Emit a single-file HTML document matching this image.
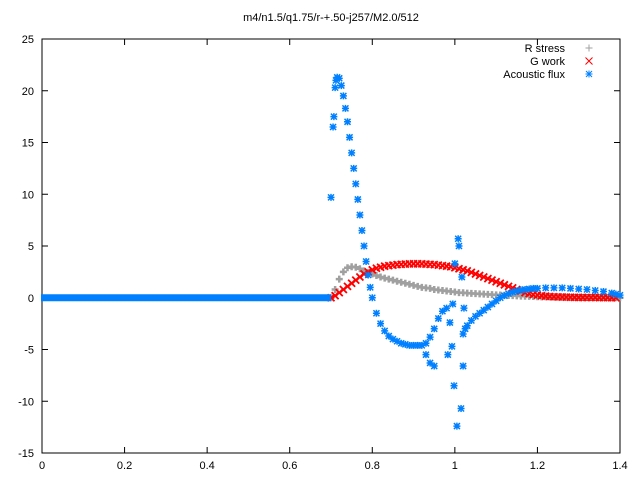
<!DOCTYPE html>
<html><head><meta charset="utf-8">
<style>
html,body{margin:0;padding:0;background:#fff;}
svg{display:block;font-family:"Liberation Sans",sans-serif;font-size:11px;}
</style></head>
<body>
<svg id="chart" width="640" height="480" viewBox="0 0 640 480" xmlns="http://www.w3.org/2000/svg">
<rect width="640" height="480" fill="#fff"/>
<text x="331" y="21" text-anchor="middle">m4/n1.5/q1.75/r-+.50-j257/M2.0/512</text>
<g id="axes"></g>
<g id="marks"></g>
<g id="legend"></g>
</svg>
<script>
const xTicks=[0,0.2,0.4,0.6,0.8,1,1.2,1.4];
const xTickLabels=["0","0.2","0.4","0.6","0.8","1","1.2","1.4"];
const yTicks=[-15,-10,-5,0,5,10,15,20,25];
const yTickLabels=["-15","-10","-5","0","5","10","15","20","25"];
const gridStartX=0.70;
const gridStep=0.01;
const rStress=[0,0.8,1.8,2.5,2.9,3.0,2.95,2.8,2.6,2.45,2.3,2.15,2.0,1.9,1.8,1.7,1.6,1.5,1.4,1.3,1.2,1.1,1.0,0.95,0.9,0.8,0.75,0.7,0.65,0.6,0.55,0.5,0.48,0.45,0.42,0.4,0.37,0.35,0.33,0.3,0.28,0.26,0.24,0.22,0.2,0.18,0.16,0.15,0.13,0.12,0.1,0.09,0.08,0.07,0.06,0.06,0.05,0.05,0.04,0.04,0.03,0.03,0.02,0.02,0.02,0.01,0.01,0.01,0,0,0];
const gWork=[0,0.2,0.5,0.8,1.1,1.4,1.7,2.0,2.3,2.5,2.7,2.85,2.95,3.05,3.1,3.15,3.2,3.22,3.25,3.27,3.28,3.28,3.27,3.25,3.22,3.2,3.15,3.1,3.05,3.0,2.9,2.8,2.7,2.6,2.45,2.3,2.15,2.0,1.85,1.7,1.55,1.4,1.25,1.1,0.95,0.8,0.65,0.5,0.4,0.3,0.25,0.2,0.15,0.12,0.1,0.08,0.07,0.06,0.05,0.04,0.03,0.03,0.02,0.02,0.02,0.01,0.01,0.01,0,0];
const fluxX=[0.70,0.705,0.707,0.71,0.712,0.715,0.72,0.725,0.73,0.735,0.74,0.745,0.75,0.755,0.76,0.765,0.77,0.775,0.78,0.785,0.79,0.795,0.80,0.81,0.82,0.83,0.84,0.85,0.86,0.87,0.88,0.89,0.90,0.91,0.92,0.93,0.94,0.95,0.93,0.94,0.95,0.96,0.97,0.98,0.983,0.988,0.993,0.995,0.998,1.0,1.005,1.008,1.010,1.015,1.017,1.020,1.022,1.02,1.025,1.03,1.04,1.05,1.06,1.07,1.08,1.09,1.10,1.11,1.12,1.13,1.14,1.15,1.16,1.17,1.18,1.19,1.20,1.22,1.24,1.26,1.28,1.30,1.32,1.34,1.36,1.38,1.39,1.40];
const fluxY=[9.7,16.5,17.5,20.3,21.0,21.3,21.2,20.5,19.5,18.3,17,15.5,14,12.5,11,9.5,8,6.5,5,3.5,2.2,1,0,-1.5,-2.5,-3.2,-3.7,-4.0,-4.2,-4.4,-4.5,-4.6,-4.6,-4.6,-4.6,-5.5,-6.3,-6.6,-4.4,-3.8,-3.0,-2.0,-1.3,-1.0,-5.5,-2.4,-4.7,-0.6,-8.5,3.3,-12.4,5.7,5.0,-10.7,2.0,-6.6,-1.0,-3.5,-3.0,-2.7,-2.2,-1.8,-1.5,-1.2,-0.9,-0.6,-0.3,0,0.2,0.4,0.55,0.65,0.75,0.8,0.85,0.9,0.9,0.95,0.95,0.95,0.9,0.85,0.8,0.7,0.6,0.45,0.35,0.25,0.2];

const L=42,R=620,T=39,B=453,xMin=0,xMax=1.4,yMin=-15,yMax=25;
const sx=v=>L+(v-xMin)/(xMax-xMin)*(R-L);
const sy=v=>B-(v-yMin)/(yMax-yMin)*(B-T);
const NS="http://www.w3.org/2000/svg";
function mk(tag,attrs,parent){const e=document.createElementNS(NS,tag);for(const k in attrs)e.setAttribute(k,attrs[k]);parent.appendChild(e);return e;}
const axes=document.getElementById('axes'),marks=document.getElementById('marks'),legend=document.getElementById('legend');

const frame=mk('rect',{x:L,y:T,width:R-L,height:B-T,fill:'none',stroke:'#000','stroke-width':1},axes);


xTicks.forEach((t,i)=>{
  const x=sx(t);
  const a=mk('path',{d:`M${x},${B}v-6M${x},${T}v6`,stroke:'#000'},axes);
  
  
  const tx=mk('text',{x:x,y:B+16,'text-anchor':'middle'},axes);tx.textContent=xTickLabels[i];
  
  
});
yTicks.forEach((t,i)=>{
  const y=sy(t);
  const a=mk('path',{d:`M${L},${y}h6M${R},${y}h-6`,stroke:'#000'},axes);
  
  
  const tx=mk('text',{x:L-8,y:y+4,'text-anchor':'end'},axes);tx.textContent=yTickLabels[i];
  
  
});

function plus(x,y,c,g,w){return mk('path',{d:`M${x-3.5},${y}h7M${x},${y-3.5}v7`,stroke:c,'stroke-width':w||1,fill:'none'},g);}
function cross(x,y,c,g,w){return mk('path',{d:`M${x-3.5},${y-3.5}l7,7M${x-3.5},${y+3.5}l7,-7`,stroke:c,'stroke-width':w||1,fill:'none'},g);}
function star(x,y,c,g,w){return mk('path',{d:`M${x-3.5},${y}h7M${x},${y-3.5}v7M${x-3},${y-3}l6,6M${x-3},${y+3}l6,-6`,stroke:c,'stroke-width':w||1,fill:'none'},g);}

const gR=mk('g',{},marks);
const gG=mk('g',{},marks);
const gA=mk('g',{},marks);

rStress.forEach((v,i)=>{const p=plus(sx(gridStartX+i*gridStep),sy(v),'#a0a0a0',gR,2.5);
  
  });
gWork.forEach((v,i)=>{const p=cross(sx(gridStartX+i*gridStep),sy(v),'#ff0000',gG,1.8);
  
  });
const flat=mk('rect',{x:sx(0)-1,y:sy(0)-3.5,width:sx(gridStartX)-sx(0)+1,height:7,fill:'#0080ff'},gA);


fluxX.forEach((xv,i)=>{const p=star(sx(xv),sy(fluxY[i]),'#0080ff',gA,1.5);
  
  });

const entries=[["R stress",'#a0a0a0',plus],["G work",'#ff0000',cross],["Acoustic flux",'#0080ff',star]];
entries.forEach((e,i)=>{
  const y=48+i*13;
  const g=mk('g',{},legend);
  
  
  const t=mk('text',{x:565,y:y+4,'text-anchor':'end'},g);t.textContent=e[0];
  e[2](589,y,e[1],g);
});
</script>
</body></html>
